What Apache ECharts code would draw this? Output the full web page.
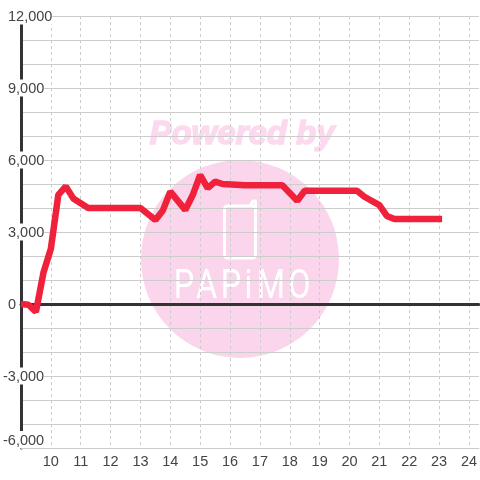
<!DOCTYPE html>
<html>
<head>
<meta charset="utf-8">
<style>html,body{margin:0;padding:0;background:#fff}</style>
<script src="https://cdn.jsdelivr.net/npm/echarts@6/dist/echarts.min.js"></script>
</head>
<body>
<div id="main" style="width:480px;height:480px"></div>
<script>
var hours = [9, 9.25, 9.5, 9.75, 10, 10.25, 10.5, 10.75, 11.25, 13, 13.5, 13.75, 14, 14.5, 14.75, 15, 15.25, 15.5, 15.75, 16.5, 17.75, 18.25, 18.5, 20.25, 20.5, 21, 21.25, 21.5, 23.1];
var values = [0, -30, -330, 1300, 2300, 4550, 4900, 4400, 4000, 4000, 3500, 3900, 4680, 3920, 4540, 5375, 4830, 5100, 5000, 4950, 4950, 4300, 4720, 4720, 4470, 4120, 3670, 3540, 3540];
var lineData = hours.map(function (h, i) { return [h, values[i]]; });

var labelFont = {color: '#444', fontSize: 14.5, fontFamily: 'Liberation Sans', backgroundColor: '#fff'};
// rich token sits at the bottom of a taller line, pushes the digits 1px down
var yRich = {a: {color: '#444', fontSize: 14.5, fontFamily: 'Liberation Sans', lineHeight: 17, verticalAlign: 'bottom'}};
var wmPink = '#fbd5ec';
var logoLetters = ['P', 'A', 'P', 'i', 'M', 'O'];
var logoX = [184, 206.5, 231, 248.5, 271, 299.5];

var logo = logoLetters.map(function (c, i) {
    return {
        type: 'text', z: -1, silent: true, x: logoX[i], y: 288, scaleX: 0.9, scaleY: 1.15,
        style: {text: c, fill: '#fff', font: '400 36px Roboto', align: 'center', verticalAlign: 'middle'}
    };
});

var chart = echarts.init(document.getElementById('main'), null, {renderer: 'canvas'});
chart.setOption({
    animation: false,
    backgroundColor: '#fff',
    grid: {left: 20, right: 0, top: 16, bottom: 32},
    graphic: [
        {type: 'circle', z: -2, silent: true, shape: {cx: 240, cy: 259, r: 99}, style: {fill: wmPink}},
        {type: 'text', z: -2, silent: true, x: 242, y: 135, style: {
            text: 'Powered by', fill: '#fcd9ee', stroke: '#fcd9ee', lineWidth: 1.5,
            font: 'italic bold 33px "Liberation Sans"', align: 'center', verticalAlign: 'middle'
        }},
        {type: 'rect', z: -1, silent: true, shape: {x: 224.5, y: 206, width: 31, height: 52, r: 3}, style: {fill: 'none', stroke: '#fff', lineWidth: 3}},
        {type: 'polyline', z: -1, silent: true, shape: {points: [[250, 206], [253, 201], [255.5, 201], [255.5, 208]]}, style: {fill: 'none', stroke: '#fff', lineWidth: 3, lineJoin: 'round'}}
    ].concat(logo),
    xAxis: [{
        type: 'value', min: 9, max: 24.33, interval: 1,
        axisLine: {onZero: false, lineStyle: {color: '#ccc', width: 1}},
        axisTick: {show: false},
        axisLabel: Object.assign({}, labelFont, {
            backgroundColor: 'transparent', margin: 6,
            showMinLabel: false, showMaxLabel: false
        }),
        splitLine: {show: true, showMinLine: false, showMaxLine: false, lineStyle: {color: '#ccc', width: 1, type: [3, 3]}}
    }, {
        type: 'value', min: 9, max: 24.33, interval: 1,
        axisLine: {onZero: true, lineStyle: {color: '#333', width: 3}},
        axisTick: {show: false}, axisLabel: {show: false}, splitLine: {show: false}
    }],
    yAxis: [{
        type: 'value', min: -6000, max: 12000, interval: 1000, position: 'left',
        axisLine: {show: true, lineStyle: {color: '#333', width: 3}},
        axisTick: {show: false},
        axisLabel: Object.assign({}, labelFont, {
            align: 'left', margin: 13, rich: yRich,
            formatter: function (v) { return (v >= 0 && v % 3000 === 0) ? '{a|' + v.toLocaleString('en-US') + '}' : ''; }
        }),
        splitLine: {show: true, lineStyle: {color: '#ccc', width: 1}}
    }, {
        type: 'value', min: -6000, max: 12000, interval: 1000, position: 'left',
        axisLine: {show: false}, axisTick: {show: false}, splitLine: {show: false},
        axisLabel: Object.assign({}, labelFont, {
            align: 'left', margin: 18, verticalAlignMinLabel: 'bottom', rich: yRich,
            formatter: function (v) { return (v < 0 && v % 3000 === 0) ? '{a|' + v.toLocaleString('en-US') + '}' : ''; }
        })
    }],
    series: [{
        type: 'line', xAxisIndex: 0, yAxisIndex: 0, data: lineData,
        showSymbol: false, clip: false, z: 5,
        lineStyle: {color: '#f0213a', width: 6.5}
    }]
});
</script>
</body>
</html>
